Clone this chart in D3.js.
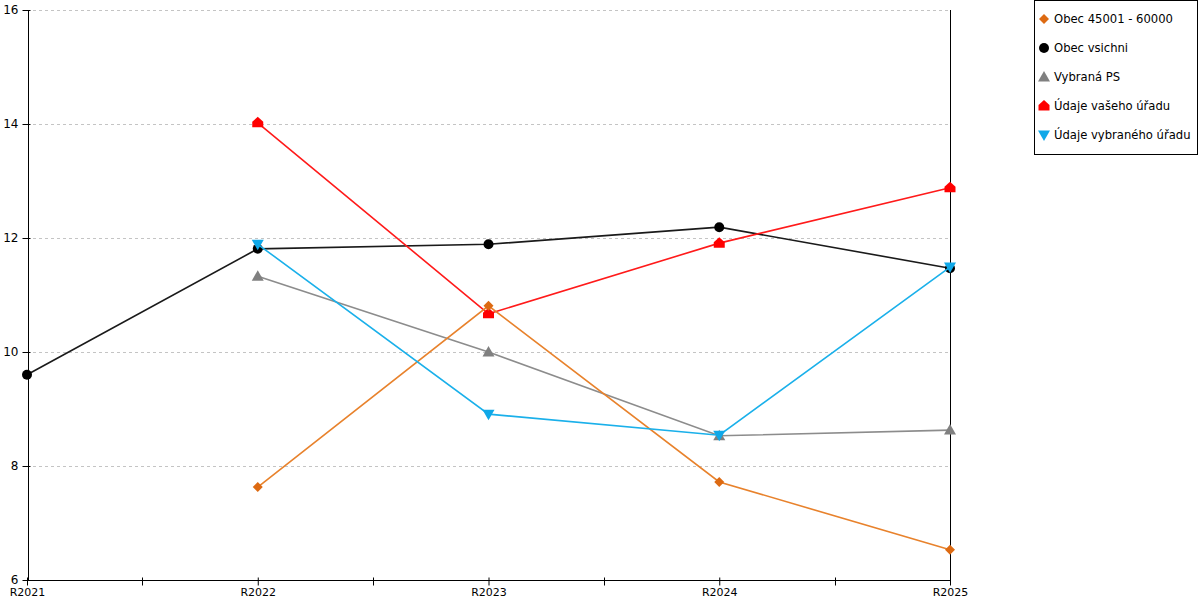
<!DOCTYPE html>
<html><head><meta charset="utf-8">
<script src="https://cdn.jsdelivr.net/npm/d3@7"></script>
<style>body{margin:0;background:#fff;font-family:"DejaVu Sans",sans-serif;}</style>
</head><body>
<svg id="c" width="1200" height="600"></svg>
<script>
const categories = ["R2021","R2022","R2023","R2024","R2025"];
const yTicks = [6,8,10,12,14,16];
const seriesNames = ["Obec 45001 - 60000","Obec vsichni","Vybraná PS","Údaje vašeho úřadu","Údaje vybraného úřadu"];
const obec45 = [null, 7.63, 10.81, 7.72, 6.53];
const obecVsichni = [9.60, 11.81, 11.89, 12.19, 11.47];
const vybranaPS = [null, 11.33, 10.00, 8.53, 8.63];
const vaseUrad = [null, 14.02, 10.67, 11.91, 12.88];
const vybranyUrad = [null, 11.89, 8.91, 8.54, 11.49];

const styles = [
  {line:"#e8822c", fill:"#dd6a12", shape:"diamond"},
  {line:"#1a1a1a", fill:"#000000", shape:"circle"},
  {line:"#8c8c8c", fill:"#808080", shape:"triangle"},
  {line:"#ff1a1a", fill:"#ff0000", shape:"house"},
  {line:"#1ab0ea", fill:"#10a8e8", shape:"tridown"}
];
const allValues = [obec45, obecVsichni, vybranaPS, vaseUrad, vybranyUrad];
const drawOrder = [1,2,3,0,4];

const svg = d3.select("#c");
const x = d3.scalePoint().domain(categories).range([27,950]);
const y = d3.scaleLinear().domain([6,16]).range([580,10]);

// grid
svg.append("g").selectAll("line").data(yTicks.filter(d=>d>6)).join("line")
  .attr("x1",27).attr("x2",948).attr("y1",d=>y(d)).attr("y2",d=>y(d))
  .attr("stroke","#c4c4c4").attr("stroke-dasharray","3,3").attr("shape-rendering","crispEdges");

// right vertical line
svg.append("line").attr("x1",x("R2025")+0.5).attr("x2",x("R2025")+0.5).attr("y1",y(16)).attr("y2",585)
  .attr("stroke","#000").attr("stroke-width",1).attr("shape-rendering","crispEdges");

// y axis
const yAx = svg.append("g").attr("transform","translate(27.5,0)")
  .call(d3.axisLeft(y).tickValues(yTicks).tickSize(0).tickFormat(d3.format("d")));
yAx.select(".domain").attr("stroke","#000").attr("shape-rendering","crispEdges");
yAx.selectAll(".tick line").attr("x1",-5).attr("x2",3).attr("stroke","#000");
yAx.selectAll("text").attr("x",-9).attr("font-size",12).attr("font-family","DejaVu Sans").attr("fill","#000");

// x axis
const xAx = svg.append("g").attr("transform","translate(0,580.5)")
  .call(d3.axisBottom(x).tickSize(0));
xAx.select(".domain").attr("stroke","#000").attr("d",`M27,0H950`).attr("shape-rendering","crispEdges");
xAx.selectAll(".tick line").attr("y1",-3).attr("y2",5).attr("stroke","#000");
xAx.selectAll("text").attr("y",8).attr("dy","0.71em").attr("font-size",11).attr("font-family","DejaVu Sans").attr("fill","#000");
// minor ticks
const mids = categories.slice(1).map((c,i)=>(x(categories[i])+x(c))/2);
xAx.append("g").selectAll("line").data(mids).join("line")
  .attr("x1",d=>Math.round(d)+0.5).attr("x2",d=>Math.round(d)+0.5).attr("y1",-3).attr("y2",5).attr("stroke","#000");

function marker(g, shape, cx, cy, fill){
  if(shape==="circle") g.append("circle").attr("cx",cx).attr("cy",cy).attr("r",5).attr("fill",fill);
  else if(shape==="diamond") g.append("path").attr("d",`M${cx},${cy-5}L${cx+5},${cy}L${cx},${cy+5}L${cx-5},${cy}Z`).attr("fill",fill);
  else if(shape==="triangle") g.append("path").attr("d",`M${cx},${cy-6}L${cx+6},${cy+4.5}L${cx-6},${cy+4.5}Z`).attr("fill",fill);
  else if(shape==="tridown") g.append("path").attr("d",`M${cx},${cy+6}L${cx+6},${cy-4.5}L${cx-6},${cy-4.5}Z`).attr("fill",fill);
  else if(shape==="house") g.append("path").attr("d",`M${cx},${cy-6}L${cx+5.5},${cy-1}L${cx+5.5},${cy+4.5}L${cx-5.5},${cy+4.5}L${cx-5.5},${cy-1}Z`).attr("fill",fill);
}

const line = d3.line().defined(d=>d.v!=null).x(d=>x(d.c)).y(d=>y(d.v));
drawOrder.forEach(i=>{
  const data = categories.map((c,j)=>({c, v: allValues[i][j]}));
  const g = svg.append("g");
  g.append("path").datum(data).attr("d",line).attr("fill","none")
    .attr("stroke",styles[i].line).attr("stroke-width",1.6);
  data.filter(d=>d.v!=null).forEach(d=>marker(g, styles[i].shape, x(d.c), y(d.v), styles[i].fill));
});

// legend
const lg = svg.append("g");
lg.append("rect").attr("x",1034.5).attr("y",0.5).attr("width",163).attr("height",154)
  .attr("fill","#fff").attr("stroke","#000").attr("shape-rendering","crispEdges");
seriesNames.forEach((n,i)=>{
  const cy = 19 + i*29;
  marker(lg, styles[i].shape, 1044, cy, styles[i].fill);
  lg.append("text").attr("x",1054).attr("y",cy).attr("dy","0.35em")
    .attr("font-size",11.6).attr("font-family","DejaVu Sans").attr("fill","#000").text(n);
});
</script>
</body></html>
